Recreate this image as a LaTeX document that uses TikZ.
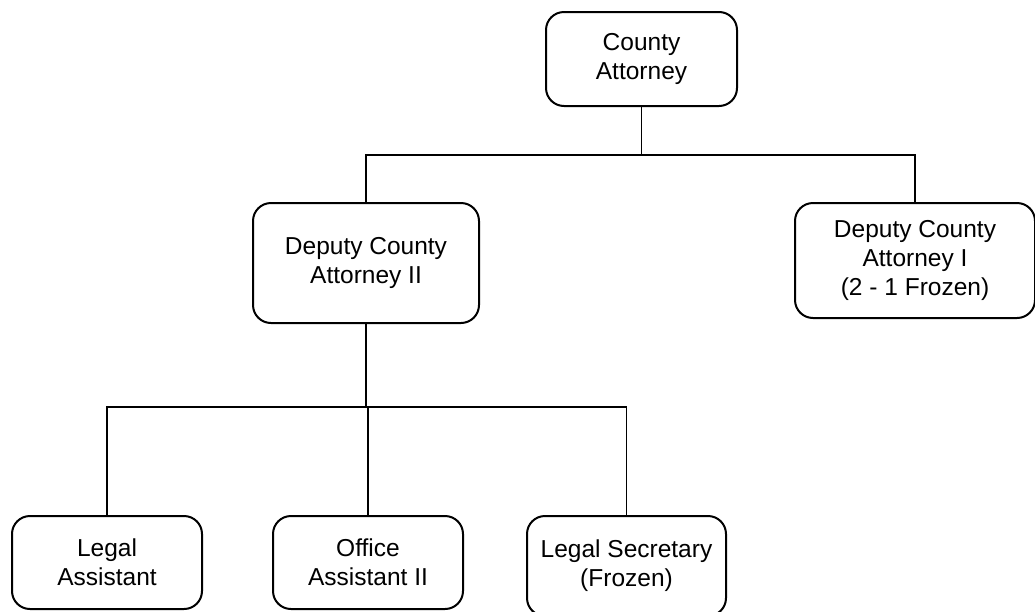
\documentclass[tikz,border=0pt]{standalone}
\usepackage{fontspec}
\setmainfont{Liberation Sans}
\begin{document}
\begin{tikzpicture}[x=1pt,y=-1pt,
  post/.style={draw=black, line width=2pt, rounded corners=18pt,
    align=center, inner sep=0pt, font=\fontsize{24.5}{29}\selectfont},
  link/.style={draw=black, line width=1.8pt}]
\useasboundingbox (0,0) rectangle (1035,611);

% positions
\node[post, minimum width=191pt, minimum height=94pt]  (ca) at (641.5,59)  {County\\Attorney};
\node[post, minimum width=226pt, minimum height=120pt] (d2) at (366,263)   {Deputy County\\Attorney II};
\node[post, minimum width=240pt, minimum height=115pt] (d1) at (915,260.5) {Deputy County\\Attorney I\\(2 - 1 Frozen)};
\node[post, minimum width=190pt, minimum height=93pt]  (la) at (107,562.5) {Legal\\Assistant};
\node[post, minimum width=190pt, minimum height=93pt]  (oa) at (368,562.5) {Office\\Assistant II};
\node[post, minimum width=199pt, minimum height=100pt] (ls) at (626.5,566) {Legal Secretary\\(Frozen)};

% branch points of the two buses
\coordinate (bus1) at (641.5,155);
\coordinate (bus2) at (366,407);

% connectors
\draw[link] (ca.south) -- (bus1);
\draw[link] (d2.north) |- (bus1) -| (d1.north);
\draw[link] (d2.south) -- (bus2);
\draw[link] (la.north) |- (bus2) -| (ls.north);
\draw[link] (oa.north) -- (oa.north |- bus2);
\end{tikzpicture}
\end{document}
